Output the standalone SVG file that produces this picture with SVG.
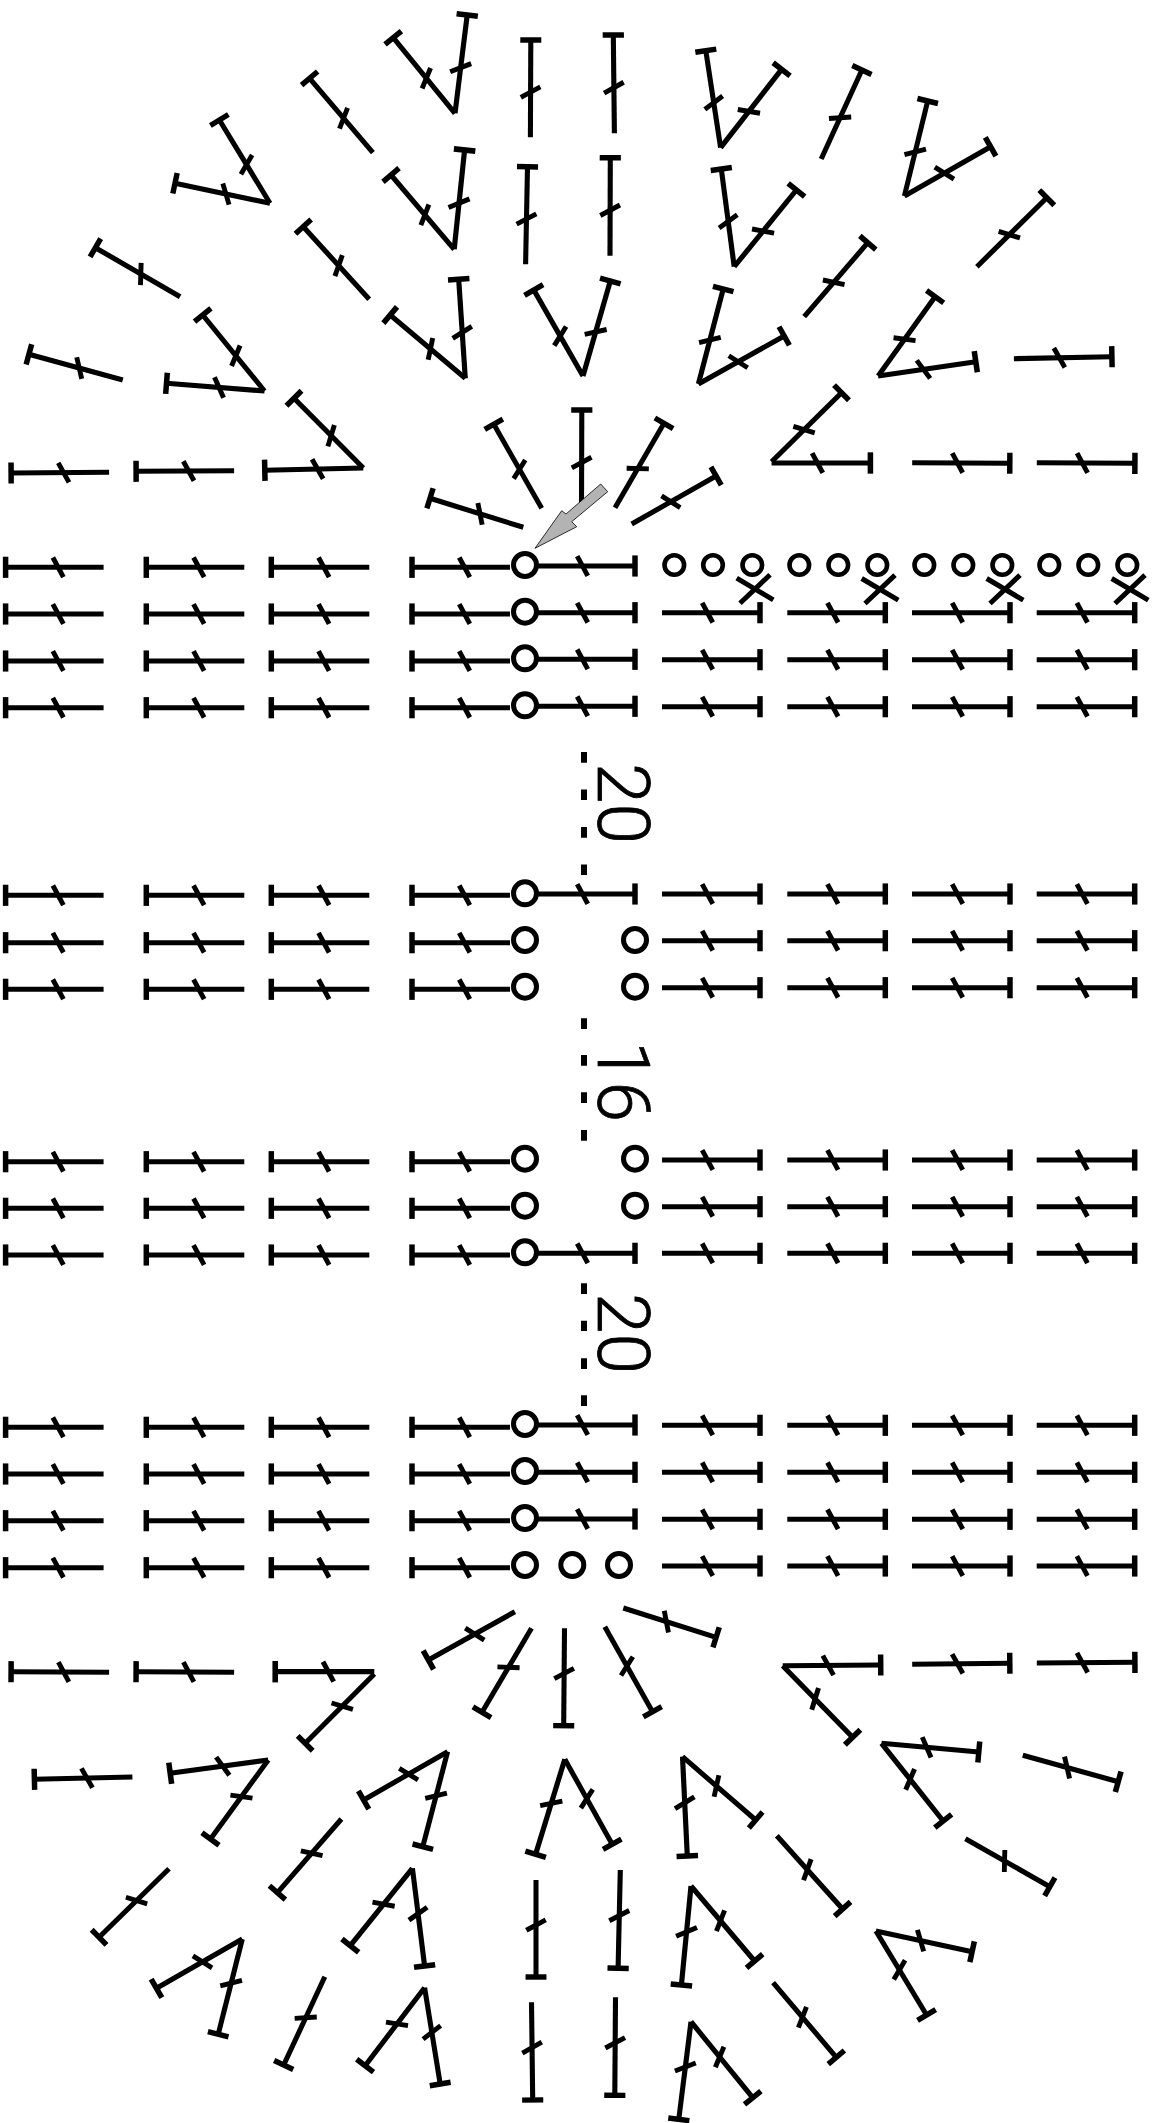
<svg xmlns="http://www.w3.org/2000/svg" width="1160" height="2123" viewBox="0 0 1160 2123">
<style>
.c{fill:#fff;stroke:#000;stroke-width:5}
.o{fill:#fff;stroke:#000;stroke-width:4.6}
.x{fill:none;stroke:#000;stroke-width:5}
.d{fill:none;stroke:#000;stroke-width:6}
.t{font-family:Roboto,"Liberation Sans",Arial,sans-serif;font-weight:300;font-size:73px;fill:#000;stroke:#000;stroke-width:.8}
</style>
<defs>
<g id="s" fill="none" stroke="#000">
<path d="M0 0H1" stroke-width=".052"/>
<path d="M1 -.108V.108" stroke-width=".056"/>
<path d="M.41 -.1L.518 .1" stroke-width=".05"/>
</g>
<g id="L">
<use href="#s" transform="matrix(-98 0 0 -98 103.6 0)"/>
<use href="#s" transform="matrix(-98 0 0 -98 244.3 0)"/>
<use href="#s" transform="matrix(-98 0 0 -98 369.3 0)"/>
<use href="#s" transform="matrix(-98 0 0 -98 510 0)"/>
</g>
<g id="R">
<use href="#s" transform="matrix(98 0 0 98 662 0)"/>
<use href="#s" transform="matrix(98 0 0 98 787.3 0)"/>
<use href="#s" transform="matrix(98 0 0 98 912 0)"/>
<use href="#s" transform="matrix(98 0 0 98 1036.7 0)"/>
</g>
<use id="M" href="#s" transform="matrix(98 0 0 98 537 0)"/>
<g id="X"><path class="x" d="M-18.3 -10.8L18.3 10.8M-15 14.2L15 -14.2"/></g>
</defs>

<g id="top-fan">
<use href="#s" transform="matrix(-98 .7 -.7 -98 109.1 472.3)"/>
<use href="#s" transform="matrix(-98 .6 -.6 -98 234.1 470.7)"/>
<use href="#s" transform="matrix(-98.5 2.3 -2.3 -98.5 363.3 468)"/>
<use href="#s" transform="matrix(-69.3 -69.7 69.7 -69.3 363.3 468)"/>
<use href="#s" transform="matrix(-98 -7.7 7.7 -98 264.5 391)"/>
<use href="#s" transform="matrix(-61.8 -76 76 -61.8 264.5 391)"/>
<use href="#s" transform="matrix(-93.9 -25.7 25.7 -93.9 122.8 380)"/>
<use href="#s" transform="matrix(-84.7 -49 49 -84.7 180.1 296.7)"/>
<use href="#s" transform="matrix(-95 -20 20 -95 270 203.3)"/>
<use href="#s" transform="matrix(-50.6 -83.3 83.3 -50.6 270 203.3)"/>
<use href="#s" transform="matrix(-63.3 -74.4 74.4 -63.3 372.9 152.7)"/>
<use href="#s" transform="matrix(-61.8 -75.6 75.6 -61.8 455 113.3)"/>
<use href="#s" transform="matrix(12.2 -98.3 98.3 12.2 455 113.3)"/>
<use href="#s" transform="matrix(.4 -97.3 97.3 .4 530.4 137.3)"/>
<use href="#s" transform="matrix(-63.2 -74.3 74.3 -63.2 454.2 249.3)"/>
<use href="#s" transform="matrix(10.4 -99.3 99.3 10.4 454.2 249.3)"/>
<use href="#s" transform="matrix(1.9 -97.6 97.6 1.9 525.6 264.3)"/>
<use href="#s" transform="matrix(-65.9 -72.6 72.6 -65.9 369.2 299.3)"/>
<use href="#s" transform="matrix(-75.1 -63.3 63.3 -75.1 465.3 378.3)"/>
<use href="#s" transform="matrix(-6.6 -99 99 -6.6 465.3 378.3)"/>
<use href="#s" transform="matrix(-49.2 -86 86 -49.2 583 376)"/>
<use href="#s" transform="matrix(27.3 -95 95 27.3 583 376)"/>
<use href="#s" transform="matrix(-47.9 -84 84 -47.9 541.7 508.3)"/>
<use href="#s" transform="matrix(.3 -98 98 .3 581.5 508)"/>
<use href="#s" transform="matrix(49 -84.4 84.4 49 615 507.7)"/>
<use href="#s" transform="matrix(84.4 -48 48 84.4 631.7 524)"/>
<use href="#s" transform="matrix(-93.3 -29 29 -93.3 523.3 527.3)"/>
<use href="#s" transform="matrix(-1.1 -98.3 98.3 -1.1 614.4 133.3)"/>
<use href="#s" transform="matrix(.3 -98 98 .3 610 255.7)"/>
<use href="#s" transform="matrix(-14.8 -97 97 -14.8 720.6 147.7)"/>
<use href="#s" transform="matrix(61 -78.4 78.4 61 720.6 147.7)"/>
<use href="#s" transform="matrix(-12.9 -97.7 97.7 -12.9 734.2 266.7)"/>
<use href="#s" transform="matrix(62.2 -76.7 76.7 62.2 734.2 266.7)"/>
<use href="#s" transform="matrix(24.8 -95 95 24.8 698.4 384)"/>
<use href="#s" transform="matrix(85.8 -48 48 85.8 698.4 384)"/>
<use href="#s" transform="matrix(40.7 -89 89 40.7 821.2 159)"/>
<use href="#s" transform="matrix(63.6 -74 74 63.6 804.2 316.7)"/>
<use href="#s" transform="matrix(23.3 -95 95 23.3 904.4 196)"/>
<use href="#s" transform="matrix(86.2 -49.3 49.3 86.2 904.4 196)"/>
<use href="#s" transform="matrix(69.9 -69 69 69.9 976.9 266.7)"/>
<use href="#s" transform="matrix(57 -79.3 79.3 57 878.1 376)"/>
<use href="#s" transform="matrix(97.7 -14.3 14.3 97.7 878.1 376)"/>
<use href="#s" transform="matrix(98 -2 2 98 1013.9 358.7)"/>
<use href="#s" transform="matrix(69.9 -69 69 69.9 771.6 461.7)"/>
<use href="#s" transform="matrix(98.8 0 0 98.8 771.6 463)"/>
<use href="#s" transform="matrix(97.6 .6 -.6 97.6 912.2 462.7)"/>
<use href="#s" transform="matrix(98.1 .6 -.6 98.1 1036.8 462.7)"/>
</g>

<g id="rows-left">
<use href="#L" y="567.3"/><use href="#L" y="614"/><use href="#L" y="661"/><use href="#L" y="707.7"/>
<use href="#L" y="895.3"/><use href="#L" y="942.7"/><use href="#L" y="989.3"/>
<use href="#L" y="1161.7"/><use href="#L" y="1208.3"/><use href="#L" y="1255"/>
<use href="#L" y="1427.3"/><use href="#L" y="1474"/><use href="#L" y="1520.7"/><use href="#L" y="1567.7"/>
</g>
<g id="rows-right">
<use href="#R" y="612.7"/><use href="#R" y="659.7"/><use href="#R" y="706.7"/>
<use href="#R" y="894"/><use href="#R" y="940.7"/><use href="#R" y="987.7"/>
<use href="#R" y="1160"/><use href="#R" y="1206.7"/><use href="#R" y="1253.3"/>
<use href="#R" y="1425.3"/><use href="#R" y="1472.3"/><use href="#R" y="1519.3"/><use href="#R" y="1566"/>
</g>
<g id="rows-middle">
<use href="#M" y="566"/><use href="#M" y="612.7"/><use href="#M" y="659.3"/><use href="#M" y="706.3"/>
<use href="#M" y="894"/><use href="#M" y="1253.3"/>
<use href="#M" y="1425"/><use href="#M" y="1472.3"/><use href="#M" y="1519"/>
</g>

<g id="rings">
<circle class="c" cx="525" cy="565" r="11.5"/><circle class="c" cx="525" cy="611.7" r="11.5"/><circle class="c" cx="525" cy="658.3" r="11.5"/><circle class="c" cx="525" cy="705.3" r="11.5"/>
<circle class="c" cx="525" cy="893.3" r="11.5"/><circle class="c" cx="525" cy="940" r="11.5"/><circle class="c" cx="525" cy="986.7" r="11.5"/>
<circle class="c" cx="635" cy="940" r="11.5"/><circle class="c" cx="635" cy="986.7" r="11.5"/>
<circle class="c" cx="525" cy="1158.7" r="11.5"/><circle class="c" cx="525" cy="1205.7" r="11.5"/><circle class="c" cx="525" cy="1252.3" r="11.5"/>
<circle class="c" cx="635" cy="1158.7" r="11.5"/><circle class="c" cx="635" cy="1205.7" r="11.5"/>
<circle class="c" cx="525" cy="1424" r="11.5"/><circle class="c" cx="525" cy="1471" r="11.5"/><circle class="c" cx="525" cy="1518" r="11.5"/>
<circle class="c" cx="525" cy="1565" r="11.5"/><circle class="c" cx="572.3" cy="1565" r="11.5"/><circle class="c" cx="619" cy="1565" r="11.5"/>
<circle class="o" cx="674.3" cy="565" r="9.8"/><circle class="o" cx="713" cy="565" r="9.8"/><circle class="o" cx="752.3" cy="565" r="9.8"/>
<circle class="o" cx="799.3" cy="565" r="9.8"/><circle class="o" cx="838.3" cy="565" r="9.8"/><circle class="o" cx="877.3" cy="565" r="9.8"/>
<circle class="o" cx="924.3" cy="565" r="9.8"/><circle class="o" cx="963.3" cy="565" r="9.8"/><circle class="o" cx="1002.3" cy="565" r="9.8"/>
<circle class="o" cx="1049.3" cy="565" r="9.8"/><circle class="o" cx="1088.3" cy="565" r="9.8"/><circle class="o" cx="1127.3" cy="565" r="9.8"/>
</g>
<g id="crosses">
<use href="#X" x="755" y="589"/><use href="#X" x="880" y="589.3"/><use href="#X" x="1005" y="589.3"/><use href="#X" x="1130" y="589.3"/>
</g>

<g id="repeat-marks">
<path class="d" d="M584 752V762.7M584 789.5V800M584 827V837.7M584 864.5V875"/>
<path class="d" d="M584 1018.3V1029M584 1055V1065.7M584 1092.3V1103M584 1130V1140.7"/>
<path class="d" d="M584 1283.3V1294M584 1320.7V1331M584 1358.3V1369M584 1395.3V1406"/>
<text class="t" transform="translate(598.3 763) rotate(90)">20</text>
<text class="t" transform="translate(598.3 1041) rotate(90)">16</text>
<text class="t" transform="translate(598.3 1293) rotate(90)">20</text>
</g>

<g id="bottom-fan">
<use href="#s" transform="matrix(-98 -.6 .6 -98 109.1 1672.3)"/>
<use href="#s" transform="matrix(-98 -.6 .6 -98 234.1 1672.3)"/>
<use href="#s" transform="matrix(-99.1 0 0 -99.1 374.3 1671.7)"/>
<use href="#s" transform="matrix(-69.1 69.3 -69.3 -69.1 374.3 1674)"/>
<use href="#s" transform="matrix(-98 2.3 -2.3 -98 132.4 1777)"/>
<use href="#s" transform="matrix(-98 13.3 -13.3 -98 268.2 1760)"/>
<use href="#s" transform="matrix(-57.7 79 -79 -57.7 268.2 1760)"/>
<use href="#s" transform="matrix(-86.5 48.3 -48.3 -86.5 514.9 1611.7)"/>
<use href="#s" transform="matrix(-49.5 84 -84 -49.5 531.5 1628.3)"/>
<use href="#s" transform="matrix(-.8 97.4 -97.4 -.8 564.5 1628.3)"/>
<use href="#s" transform="matrix(-84 48.3 -48.3 -84 447.6 1751.7)"/>
<use href="#s" transform="matrix(-24.8 95 -95 -24.8 447.6 1751.7)"/>
<use href="#s" transform="matrix(-64 73.7 -73.7 -64 341.4 1819)"/>
<use href="#s" transform="matrix(-69.9 68.6 -68.6 -69.9 169 1868.7)"/>
<use href="#s" transform="matrix(-62.1 77.4 -77.4 -62.1 412.4 1868.3)"/>
<use href="#s" transform="matrix(12.2 97.7 -97.7 12.2 412.4 1868.3)"/>
<use href="#s" transform="matrix(-85.8 49.3 -49.3 -85.8 242.3 1939)"/>
<use href="#s" transform="matrix(-24.1 95.3 -95.3 -24.1 242.3 1939)"/>
<use href="#s" transform="matrix(-41.1 88.3 -88.3 -41.1 324.8 1976.7)"/>
<use href="#s" transform="matrix(-59.5 78 -78 -59.5 424.6 1987.7)"/>
<use href="#s" transform="matrix(15.6 96.3 -96.3 15.6 424.6 1987.7)"/>
<use href="#s" transform="matrix(0 97 -97 0 536 1880)"/>
<use href="#s" transform="matrix(1.2 97.7 -97.7 1.2 531.5 2002.3)"/>
<use href="#s" transform="matrix(-29.2 95 -95 -29.2 564.8 1759.3)"/>
<use href="#s" transform="matrix(47.4 85 -85 47.4 564.8 1759.3)"/>
<use href="#s" transform="matrix(92.8 29.3 -29.3 92.8 623.3 1608)"/>
<use href="#s" transform="matrix(47.7 85 -85 47.7 604.8 1626.7)"/>
<use href="#s" transform="matrix(4.8 99.3 -99.3 4.8 682.5 1756.7)"/>
<use href="#s" transform="matrix(73.2 63.3 -63.3 73.2 682.5 1756.7)"/>
<use href="#s" transform="matrix(-2.2 98.3 -98.3 -2.2 620.3 1870)"/>
<use href="#s" transform="matrix(-9.6 99 -99 -9.6 691 1886)"/>
<use href="#s" transform="matrix(63.6 75 -75 63.6 691 1886)"/>
<use href="#s" transform="matrix(-.7 98 -98 -.7 615.5 1997.3)"/>
<use href="#s" transform="matrix(-12.2 97.6 -97.6 -12.2 691 2021.7)"/>
<use href="#s" transform="matrix(61.7 76 -76 61.7 691 2021.7)"/>
<use href="#s" transform="matrix(65.8 73.3 -73.3 65.8 776.8 1835.7)"/>
<use href="#s" transform="matrix(63.2 74.6 -74.6 63.2 773.1 1982.7)"/>
<use href="#s" transform="matrix(98 -.7 .7 98 782.7 1665.7)"/>
<use href="#s" transform="matrix(69.9 71.6 -71.6 69.9 782.7 1665.7)"/>
<use href="#s" transform="matrix(97.6 -1 1 97.6 912.2 1664.3)"/>
<use href="#s" transform="matrix(98.1 -.7 .7 98.1 1036.8 1663)"/>
<use href="#s" transform="matrix(97.3 8.7 -8.7 97.3 881.5 1743.3)"/>
<use href="#s" transform="matrix(61.7 77.7 -77.7 61.7 881.5 1743.3)"/>
<use href="#s" transform="matrix(95.4 26.4 -26.4 95.4 1022.8 1755.3)"/>
<use href="#s" transform="matrix(84.4 48 -48 84.4 965.4 1838.7)"/>
<use href="#s" transform="matrix(96.2 20.7 -20.7 96.2 875.9 1931)"/>
<use href="#s" transform="matrix(50.7 84 -84 50.7 875.9 1931)"/>
</g>

<polygon id="start-arrow" points="535,548.3 576.7,526.7 571.7,521.7 607.7,491.7 600.7,484 566,514 561.7,510.7" fill="#b3b3b3" stroke="#000" stroke-width=".8"/>
</svg>
